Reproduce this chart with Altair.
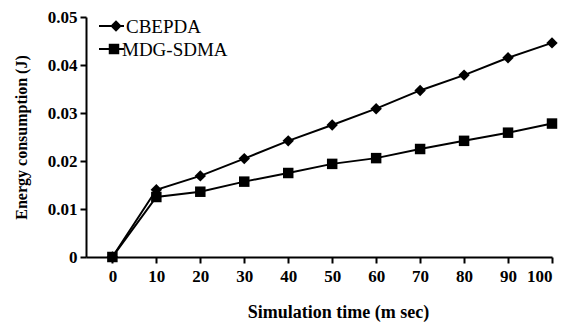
import altair as alt
import pandas as pd

times = [0, 10, 20, 30, 40, 50, 60, 70, 80, 90, 100]
cbepda = [0.0, 0.0140, 0.0169, 0.0205, 0.0242, 0.0275, 0.0309, 0.0347, 0.0379, 0.0415, 0.0446]
mdg_sdma = [0.0, 0.0125, 0.0136, 0.0157, 0.0175, 0.0194, 0.0206, 0.0225, 0.0242, 0.0259, 0.0278]
series = ["CBEPDA", "MDG-SDMA"]
shapes = ["diamond", "square"]

rows = []
for t, a, b in zip(times, cbepda, mdg_sdma):
    rows.append({"t": t, "v": a, "s": series[0]})
    rows.append({"t": t, "v": b, "s": series[1]})
df = pd.DataFrame(rows)

FONT = "Liberation Serif"

x = alt.X("t:Q", scale=alt.Scale(domain=[-6, 100], nice=False, zero=False),
          axis=alt.Axis(values=times, title="Simulation time (m sec)", titlePadding=19,
                        titleFontSize=18, titleX=252, labelPadding=5))
y = alt.Y("v:Q", scale=alt.Scale(domain=[0, 0.05], nice=False),
          axis=alt.Axis(values=[0, 0.01, 0.02, 0.03, 0.04, 0.05], title="Energy consumption (J)",
                        labelExpr="datum.value == 0 ? '0' : format(datum.value, '.2f')",
                        titlePadding=18, titleFontSize=16, labelPadding=3))

lines = alt.Chart(df).mark_line(color="black", strokeWidth=2).encode(x=x, y=y, detail="s:N")
points = alt.Chart(df).mark_point(filled=True, color="black", opacity=1).encode(
    x=x, y=y,
    shape=alt.Shape("s:N", scale=alt.Scale(domain=series, range=shapes), legend=None),
    size=alt.Size("s:N", scale=alt.Scale(domain=series, range=[130, 110]), legend=None),
)

# manual legend (line + marker + label)
leg_layers = []
for i, (name, shp) in enumerate(zip(series, shapes)):
    ld = pd.DataFrame({"s": [name]})
    yy = 9 + 23 * i
    leg_layers.append(alt.Chart(ld).mark_rule(color="black", strokeWidth=2).encode(
        x=alt.value(13), x2=alt.value(38), y=alt.value(yy)))
    leg_layers.append(alt.Chart(ld).mark_point(filled=True, color="black", opacity=1, shape=shp,
                                               size=130 if i == 0 else 110).encode(
        x=alt.value(30 if i == 0 else 28), y=alt.value(yy)))
    leg_layers.append(alt.Chart(ld).mark_text(align="left", baseline="middle", font=FONT,
                                              fontSize=19, color="black").encode(
        x=alt.value(40 if i == 0 else 36), y=alt.value(yy + 1), text="s:N"))

chart = alt.layer(lines, points, *leg_layers).properties(
    width=466, height=240,
    autosize=alt.AutoSizeParams(type="none"),
    padding={"left": 78, "top": 9, "right": 12, "bottom": 66},
).configure_view(stroke=None).configure_axis(
    grid=False, domainColor="black", domainWidth=2, tickColor="black", tickWidth=2, tickSize=6,
    labelFont=FONT, labelFontSize=17, labelFontWeight="bold", labelColor="black",
    titleFont=FONT, titleFontWeight="bold", titleColor="black",
)

chart.save("out.html", embed_options={"renderer": "svg", "actions": False})
